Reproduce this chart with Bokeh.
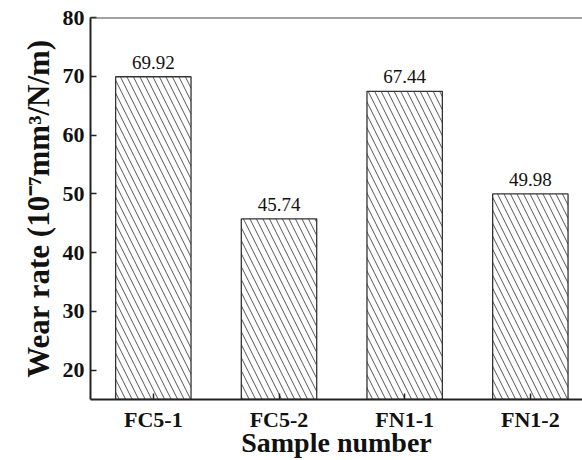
from bokeh.plotting import figure
from bokeh.models import Range1d, FixedTicker, Span, ColumnDataSource
from bokeh.core.properties import value
from bokeh.embed import file_html
from bokeh.resources import INLINE

samples = ["FC5-1", "FC5-2", "FN1-1", "FN1-2"]
wear_rate = [69.92, 45.74, 67.44, 49.98]
y_ticks = [20, 30, 40, 50, 60, 70, 80]

x_pos = [i + 0.5 for i in range(len(samples))]
labels = ["{:.2f}".format(v) for v in wear_rate]

src = ColumnDataSource(dict(x=x_pos, top=wear_rate, label=labels))

p = figure(width=582, height=460, output_backend="svg", toolbar_location=None,
           x_range=Range1d(0, 3.915), y_range=Range1d(15, 80),
           min_border_left=90, min_border_right=0, min_border_top=17, min_border_bottom=61)
p.outline_line_color = None
p.grid.visible = False
p.background_fill_color = "white"
p.border_fill_color = "white"

p.vbar(x="x", top="top", bottom=15, width=0.6, source=src,
       fill_color="white", line_color="#333333", line_width=1.3,
       hatch_pattern="left_diagonal_line", hatch_color="#555555",
       hatch_scale=13, hatch_weight=1)

FONT = "Liberation Serif"

p.text(x="x", y="top", text="label", source=src, y_offset=-8,
       text_align="center", text_baseline="bottom",
       text_font=value(FONT), text_font_size="19px", text_color="#111111")

# y axis
ya = p.yaxis[0]
ya.ticker = FixedTicker(ticks=y_ticks)
ya.minor_tick_line_color = None
ya.major_tick_in = 6
ya.major_tick_out = 0
ya.major_tick_line_width = 1.5
ya.major_tick_line_color = "#222222"
ya.axis_line_width = 2
ya.axis_line_color = "#222222"
ya.major_label_text_font = FONT
ya.major_label_text_font_style = "bold"
ya.major_label_text_font_size = "22px"
ya.major_label_text_color = "#111111"
ya.major_label_standoff = 6
ya.axis_label = "Wear rate (10\u207b\u2077mm\u00b3/N/m)"
ya.axis_label_text_font = FONT
ya.axis_label_text_font_style = "bold"
ya.axis_label_text_font_size = "31px"
ya.axis_label_text_color = "#111111"
ya.axis_label_standoff = 4

# x axis
xa = p.xaxis[0]
xa.ticker = FixedTicker(ticks=x_pos)
xa.major_label_overrides = {x: s for x, s in zip(x_pos, samples)}
xa.minor_tick_line_color = None
xa.major_tick_in = 6
xa.major_tick_out = 0
xa.major_tick_line_width = 1.5
xa.major_tick_line_color = "#222222"
xa.axis_line_width = 2
xa.axis_line_color = "#222222"
xa.major_label_text_font = FONT
xa.major_label_text_font_style = "bold"
xa.major_label_text_font_size = "22px"
xa.major_label_text_color = "#111111"
xa.major_label_standoff = 7
xa.axis_label = "Sample number"
xa.axis_label_text_font = FONT
xa.axis_label_text_font_style = "bold"
xa.axis_label_text_font_size = "28px"
xa.axis_label_text_color = "#111111"
xa.axis_label_standoff = -8

# top border line
p.add_layout(Span(location=80, dimension="width", line_color="#444444", line_width=2))

open("out.html", "w").write(file_html(p, INLINE))
